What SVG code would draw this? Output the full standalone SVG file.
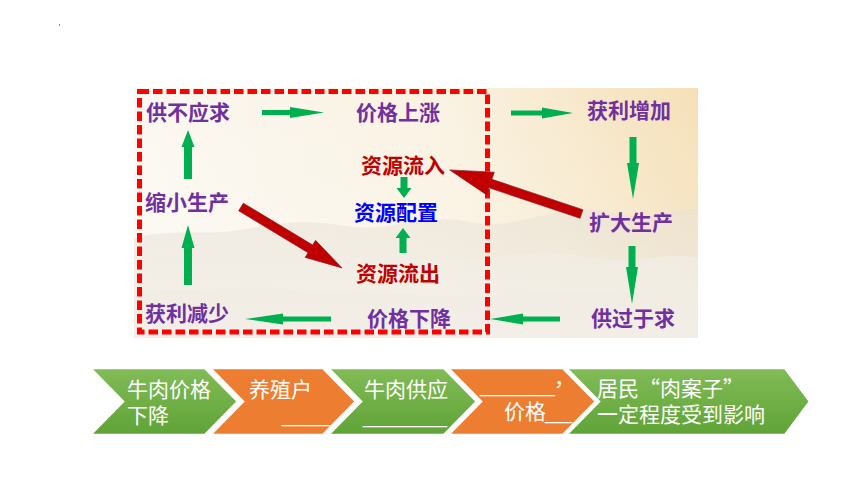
<svg xmlns="http://www.w3.org/2000/svg" width="860" height="484" viewBox="0 0 860 484">
<defs>
<linearGradient id="bgH" x1="0" y1="0" x2="1" y2="0">
<stop offset="0" stop-color="#FBF8F1"/>
<stop offset="0.55" stop-color="#FAF2E2"/>
<stop offset="1" stop-color="#F5E0B8"/>
</linearGradient>
<linearGradient id="bgV" x1="0" y1="0" x2="0" y2="1">
<stop offset="0" stop-color="#FFFFFF" stop-opacity="0"/>
<stop offset="0.6" stop-color="#FFFFFF" stop-opacity="0.2"/>
<stop offset="1" stop-color="#FFFFFF" stop-opacity="0.4"/>
</linearGradient>
<linearGradient id="grn" x1="0" y1="0" x2="0" y2="1">
<stop offset="0" stop-color="#82BC57"/>
<stop offset="1" stop-color="#5FA336"/>
</linearGradient>
<style>
.lbl{font-family:"Noto Sans CJK SC","Noto Sans CJK JP",sans-serif;font-size:21px;font-weight:bold;fill:#7030A0}
.red{fill:#C00000}
.blue{fill:#0000FF}
.ct{font-family:"Noto Sans CJK SC","Noto Sans CJK JP",sans-serif;font-size:21px;fill:#FFFFFF}
.us{font-family:"Liberation Sans",sans-serif}
.ga{fill:#00B050}
.ra{fill:#C00000;stroke:#8A1A2A;stroke-width:0.6}
.chg{fill:url(#grn);stroke:#FFFFFF;stroke-width:2.5}
.cho{fill:#ED7D31;stroke:#FFFFFF;stroke-width:2.5}
</style>
</defs>
<rect width="860" height="484" fill="#FFFFFF"/>
<rect x="59" y="24" width="1" height="2" fill="#888888"/>
<g id="background">
<rect x="134" y="88" width="564" height="250" fill="url(#bgH)"/>
<path d="M134,238 C170,228 205,236 240,230 S300,218 345,226 S420,212 470,222 S560,200 610,212 S670,205 698,210 L698,338 L134,338 Z" fill="#E4DDCF" opacity="0.55"/>
<path d="M134,262 C180,250 230,262 280,254 S370,248 420,258 S520,244 580,256 S660,250 698,258 L698,338 L134,338 Z" fill="#EDE8DD" opacity="0.7"/>
<path d="M134,296 C170,286 200,292 240,288 S300,296 340,292 S430,300 480,296 S600,290 698,298 L698,338 L134,338 Z" fill="#E9E3D7" opacity="0.6"/>
<rect x="134" y="88" width="564" height="250" fill="url(#bgV)"/>
</g>
<rect id="frame" x="139.5" y="91.5" width="348" height="240.5" fill="none" stroke="#FF0000" stroke-width="5" stroke-dasharray="9.5 4"/>
<g id="connectors">
<polygon class="ga" points="262,110 290,110 290,107 324,112.5 290,118 290,115 262,115"/>
<polygon class="ga" points="511,110.5 542,110.5 542,107.5 573,113 542,118.5 542,115.5 511,115.5"/>
<polygon class="ga" points="629.5,137 636.5,137 636.5,163 639,163 633,199 627,163 629.5,163"/>
<polygon class="ga" points="628.5,246 635.5,246 635.5,267 638,267 632,304 626,267 628.5,267"/>
<polygon class="ga" points="560,316.5 523,316.5 523,313.5 490,319 523,324.5 523,321.5 560,321.5"/>
<polygon class="ga" points="331,316.5 283,316.5 283,313.5 245,319 283,324.5 283,321.5 331,321.5"/>
<polygon class="ga" points="184,285 192,285 192,248 194.5,248 188,225 181.5,248 184,248"/>
<polygon class="ga" points="184,179 192,179 192,147 194.5,147 188,130 181.5,147 184,147"/>
<polygon class="ga" points="400.5,177 407.5,177 407.5,188 411.5,188 404,198 396.5,188 400.5,188"/>
<polygon class="ga" points="399.5,253 406.5,253 406.5,238 410.5,238 403,228 395.5,238 399.5,238"/>
<path class="ra" transform="translate(241,207) rotate(31.1)" d="M0,-4.5 H81 V-10 L118,0 L81,10 V4.5 H0 Z"/>
<path class="ra" transform="translate(581.5,214) rotate(198.5)" d="M0,-4.5 H96 V-12 L139,0 L96,12 V4.5 H0 Z"/>
</g>
<g id="n-gbyq"><text class="lbl" x="146" y="120">供不应求</text></g>
<g id="n-jgsz"><text class="lbl" x="356" y="120">价格上涨</text></g>
<g id="n-hlzj"><text class="lbl" x="587" y="118">获利增加</text></g>
<g id="n-zylr"><text class="lbl red" x="361" y="173">资源流入</text></g>
<g id="n-zypz"><text class="lbl blue" x="354" y="220">资源配置</text></g>
<g id="n-zylc"><text class="lbl red" x="356" y="281">资源流出</text></g>
<g id="n-sxsc"><text class="lbl" x="145" y="210">缩小生产</text></g>
<g id="n-hljs"><text class="lbl" x="145" y="321">获利减少</text></g>
<g id="n-jgxj"><text class="lbl" x="367" y="326">价格下降</text></g>
<g id="n-kdsc"><text class="lbl" x="589" y="230">扩大生产</text></g>
<g id="n-ggyq"><text class="lbl" x="591" y="326">供过于求</text></g>
<g id="chain">
<g id="c1">
<polygon class="chg" points="90,368 205,368 238,401.5 205,435 90,435 123,401.5"/>
<text class="ct"><tspan x="127" y="397">牛肉价格</tspan><tspan x="127" y="423">下降</tspan></text>
</g>
<g id="c2">
<polygon class="cho" points="210,368 323,368 356,401.5 323,435 210,435 243,401.5"/>
<text class="ct"><tspan x="249" y="397">养殖户</tspan><tspan class="us" x="282" y="422" textLength="48" lengthAdjust="spacingAndGlyphs">____</tspan></text>
</g>
<g id="c3">
<polygon class="chg" points="328,368 444,368 477,401.5 444,435 328,435 361,401.5"/>
<text class="ct"><tspan x="364" y="397">牛肉供应</tspan><tspan class="us" x="363" y="423" textLength="84" lengthAdjust="spacingAndGlyphs">________</tspan></text>
</g>
<g id="c4">
<polygon class="cho" points="448,368 563,368 596,401.5 563,435 448,435 481,401.5"/>
<text class="ct"><tspan class="us" x="480" y="392" textLength="75" lengthAdjust="spacingAndGlyphs">________</tspan><tspan x="554" y="385">，</tspan><tspan x="504" y="419">价格</tspan><tspan class="us" x="545" y="419" textLength="27" lengthAdjust="spacingAndGlyphs">___</tspan></text>
</g>
<g id="c5">
<polygon class="chg" points="566,368 785,368 810,401.5 785,435 566,435 599,401.5"/>
<text class="ct"><tspan x="597" y="396">居民“肉案子”</tspan><tspan x="597" y="422">一定程度受到影响</tspan></text>
</g>
</g>
</svg>
